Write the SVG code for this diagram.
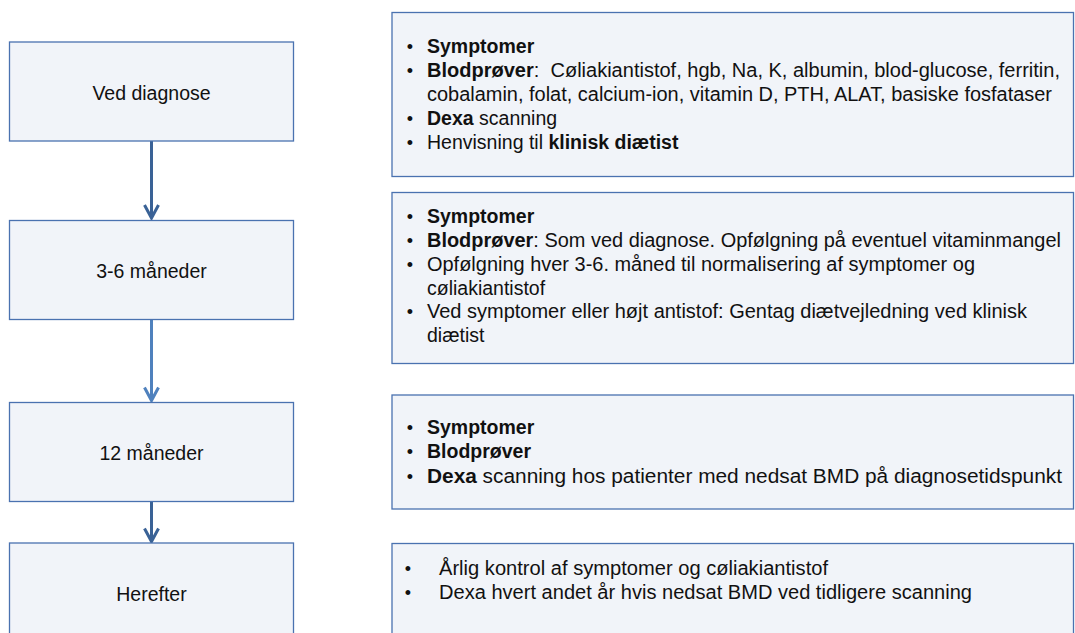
<svg xmlns="http://www.w3.org/2000/svg" width="1075" height="633" viewBox="0 0 1075 633">
  <style>
    .box { fill: #f1f4f9; stroke: #4a72b0; stroke-width: 1.3; }
    .lbl { font-family: "Liberation Sans", Arial, sans-serif; font-size: 19.5px; fill: #111; text-anchor: middle; }
    .t { font-family: "Liberation Sans", Arial, sans-serif; font-size: 19.5px; fill: #111; }
    .bul { font-family: "Liberation Sans", Arial, sans-serif; font-size: 18px; fill: #111; text-anchor: middle; }
    .b { font-weight: bold; }
    .link { stroke: #4f81bd; stroke-width: 3.5; fill: none; filter: url(#sh); }
    .arrD { stroke: #3a6296; stroke-width: 3; fill: none; }
    .arrL { stroke: #4f81bd; stroke-width: 3; fill: none; }
  </style>
  <defs>
    <filter id="sh" x="-10%" y="-200%" width="120%" height="500%">
      <feDropShadow dx="0" dy="2" stdDeviation="1.3" flood-color="#000" flood-opacity="0.35"/>
    </filter>
  </defs>
  <rect width="1075" height="633" fill="#ffffff"/>

  <g id="connectors">
    <line class="link" x1="293.5" y1="89.5" x2="392" y2="89.5"/>
    <line class="link" x1="293.5" y1="269.5" x2="392" y2="269.5"/>
    <line class="link" x1="293.5" y1="451.5" x2="392" y2="451.5"/>
    <line class="link" x1="293.5" y1="592" x2="392" y2="592"/>
    <line class="arrD" x1="151.5" y1="141" x2="151.5" y2="218"/>
    <polyline class="arrD" points="144.5,205 151.5,218 158.5,205"/>
    <line class="arrL" x1="151.5" y1="319.5" x2="151.5" y2="400.5"/>
    <polyline class="arrL" points="144.5,387.5 151.5,400.5 158.5,387.5"/>
    <line class="arrD" x1="151.5" y1="501.5" x2="151.5" y2="541.5"/>
    <polyline class="arrD" points="144.5,528.5 151.5,541.5 158.5,528.5"/>
  </g>

  <g id="node-ved-diagnose">
    <rect class="box" x="9.5" y="42" width="284" height="99"/>
    <text class="lbl" x="151.5" y="100">Ved diagnose</text>
  </g>
  <g id="node-3-6-maaneder">
    <rect class="box" x="9.5" y="220.5" width="284" height="99"/>
    <text class="lbl" x="151.5" y="277.5">3-6 måneder</text>
  </g>
  <g id="node-12-maaneder">
    <rect class="box" x="9.5" y="402.5" width="284" height="99"/>
    <text class="lbl" x="151.5" y="460">12 måneder</text>
  </g>
  <g id="node-herefter">
    <rect class="box" x="9.5" y="543" width="284" height="99"/>
    <text class="lbl" x="151.5" y="600.5">Herefter</text>
  </g>

  <g id="detail-ved-diagnose">
    <rect class="box" x="392" y="12.5" width="681.5" height="164"/>
    <text class="bul" x="410" y="52.5">•</text>
    <text class="t b" x="427" y="52.5">Symptomer</text>
    <text class="bul" x="410" y="77">•</text>
    <text class="t" x="427" y="77" textLength="633" lengthAdjust="spacingAndGlyphs" xml:space="preserve"><tspan class="b">Blodprøver</tspan>:  Cøliakiantistof, hgb, Na, K, albumin, blod-glucose, ferritin,</text>
    <text class="t" x="427" y="101" textLength="625" lengthAdjust="spacingAndGlyphs">cobalamin, folat, calcium-ion, vitamin D, PTH, ALAT, basiske fosfataser</text>
    <text class="bul" x="410" y="125">•</text>
    <text class="t" x="427" y="125"><tspan class="b">Dexa</tspan> scanning</text>
    <text class="bul" x="410" y="148.5">•</text>
    <text class="t" x="427" y="148.5">Henvisning til <tspan class="b">klinisk diætist</tspan></text>
  </g>

  <g id="detail-3-6-maaneder">
    <rect class="box" x="392" y="192.5" width="681.5" height="171"/>
    <text class="bul" x="410" y="222.5">•</text>
    <text class="t b" x="427" y="222.5">Symptomer</text>
    <text class="bul" x="410" y="246.5">•</text>
    <text class="t" x="427" y="246.5" textLength="634" lengthAdjust="spacingAndGlyphs"><tspan class="b">Blodprøver</tspan>: Som ved diagnose. Opfølgning på eventuel vitaminmangel</text>
    <text class="bul" x="410" y="270.5">•</text>
    <text class="t" x="427" y="270.5" textLength="548" lengthAdjust="spacingAndGlyphs">Opfølgning hver 3-6. måned til normalisering af symptomer og</text>
    <text class="t" x="427" y="294.5">cøliakiantistof</text>
    <text class="bul" x="410" y="318">•</text>
    <text class="t" x="427" y="318" textLength="600" lengthAdjust="spacingAndGlyphs">Ved symptomer eller højt antistof: Gentag diætvejledning ved klinisk</text>
    <text class="t" x="427" y="342">diætist</text>
  </g>

  <g id="detail-12-maaneder">
    <rect class="box" x="392" y="395" width="681.5" height="114"/>
    <text class="bul" x="410" y="433.5">•</text>
    <text class="t b" x="427" y="433.5">Symptomer</text>
    <text class="bul" x="410" y="458">•</text>
    <text class="t b" x="427" y="458">Blodprøver</text>
    <text class="bul" x="410" y="482.5">•</text>
    <text class="t" x="427" y="482.5" textLength="635" lengthAdjust="spacingAndGlyphs"><tspan class="b">Dexa</tspan> scanning hos patienter med nedsat BMD på diagnosetidspunkt</text>
  </g>

  <g id="detail-herefter">
    <rect class="box" x="392" y="543.5" width="681.5" height="100"/>
    <text class="bul" x="408" y="574.5">•</text>
    <text class="t" x="439" y="574.5" textLength="389" lengthAdjust="spacingAndGlyphs">Årlig kontrol af symptomer og cøliakiantistof</text>
    <text class="bul" x="408" y="598.5">•</text>
    <text class="t" x="439" y="598.5" textLength="533" lengthAdjust="spacingAndGlyphs">Dexa hvert andet år hvis nedsat BMD ved tidligere scanning</text>
  </g>
</svg>
